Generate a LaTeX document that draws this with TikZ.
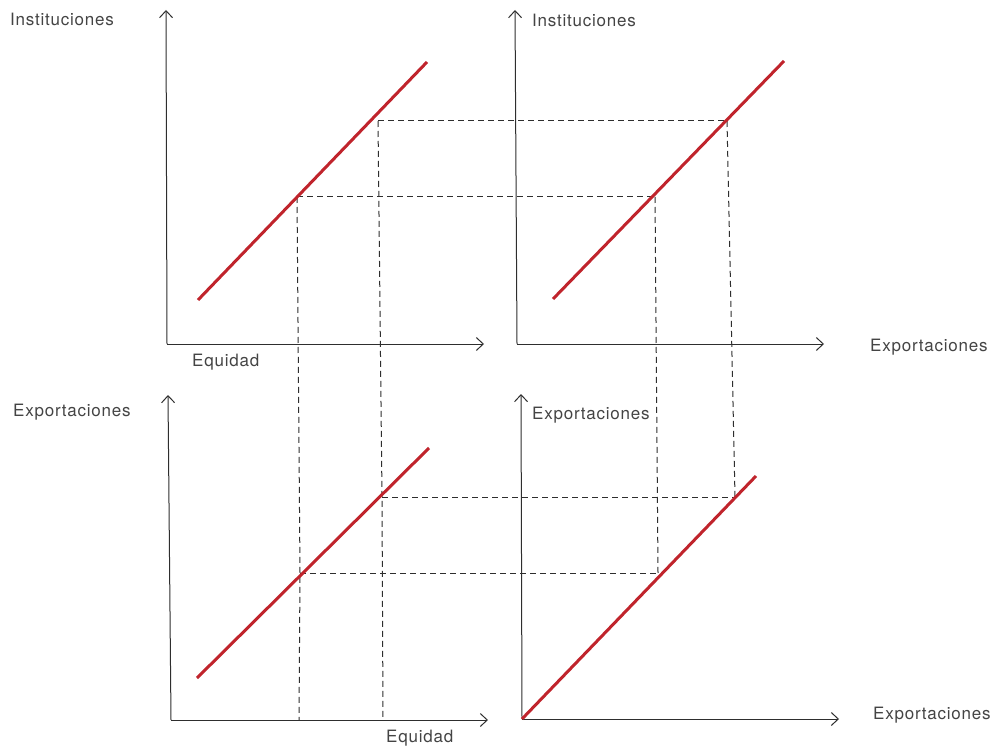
\documentclass[tikz,border=0pt]{standalone}
\usepackage{fontspec}
\setmainfont{TeX Gyre Heros}[LetterSpace=4.5]
\usetikzlibrary{arrows.meta}
\definecolor{axisgray}{HTML}{2E2E2E}
\definecolor{txtgray}{HTML}{444444}
\definecolor{curvered}{HTML}{C0242C}
\begin{document}
\begin{tikzpicture}[x=1pt,y=-1pt,
  axis/.style={draw=axisgray,line width=1pt,-{Straight Barb[length=7pt,width=13pt,line width=1pt]}},
  curve/.style={draw=curvered,line width=3pt},
  guide/.style={draw=axisgray,line width=1pt,dash pattern=on 6pt off 4pt},
  lbl/.style={text=txtgray,font=\fontsize{17}{19}\selectfont,inner sep=0pt,anchor=west}]
\useasboundingbox (0,0) rectangle (992,751);
% origins
\coordinate (o1) at (167,344);
\coordinate (o2) at (517,344);
\coordinate (o3) at (171,720);
\coordinate (o4) at (522,719);
% axes
\draw[axis] (o1) -- (166,10);
\draw[axis] (o1) -- (484,344);
\draw[axis] (o2) -- (515,10);
\draw[axis] (o2) -- (824,344);
\draw[axis] (o3) -- (168,395);
\draw[axis] (o3) -- (488,720);
\draw[axis] (o4) -- (521,394);
\draw[axis] (o4) -- (839,719);
% guide points
\coordinate (a1) at (297,197);
\coordinate (b1) at (378,121);
\coordinate (a2) at (655,197);
\coordinate (b2) at (727,121);
\coordinate (a3) at (300,573);
\coordinate (b3) at (382,497);
\coordinate (a4) at (658,573);
\coordinate (b4) at (735,497);
\coordinate (a1x) at (299,720);
\coordinate (b1x) at (383,720);
% dashed guides
\draw[guide] (a1) -- (a2);
\draw[guide] (b1) -- (b2);
\draw[guide] (a1) -- (a3) -- (a1x);
\draw[guide] (b1) -- (b3) -- (b1x);
\draw[guide] (a2) -- (a4);
\draw[guide] (b2) -- (b4);
\draw[guide] (a3) -- (a4);
\draw[guide] (b3) -- (b4);
% red lines
\draw[curve] (198,300) -- (427,62);
\draw[curve] (553,299) -- (784,61);
\draw[curve] (197,678) -- (429,448);
\draw[curve] (o4) -- (756,476);
% labels
\node[lbl] (l1) at (10,19) {Instituciones};
\node[lbl] (l2) at (192,362) {Equidad};
\node[lbl] (l3) at (532,20) {Instituciones};
\node[lbl] (l4) at (870,347) {Exportaciones};
\node[lbl] (l5) at (13,412) {Exportaciones};
\node[lbl] (l6) at (532,415) {Exportaciones};
\node[lbl] (l7) at (386,738) {Equidad};
\node[lbl] (l8) at (873,715) {Exportaciones};
\end{tikzpicture}
\end{document}
